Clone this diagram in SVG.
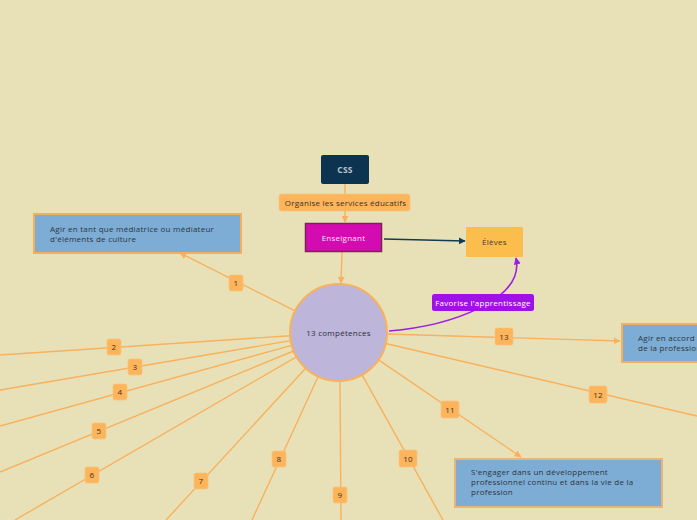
<svg xmlns="http://www.w3.org/2000/svg" width="697" height="520" viewBox="0 0 697 520">
<defs>
<marker id="ao" viewBox="0 0 10 10" refX="9" refY="5" markerWidth="7" markerHeight="7" markerUnits="userSpaceOnUse" orient="auto"><path d="M0,0 L10,5 L0,10 z" fill="#F8B15C"/></marker>
<marker id="an" viewBox="0 0 10 10" refX="9" refY="5" markerWidth="7" markerHeight="7" markerUnits="userSpaceOnUse" orient="auto"><path d="M0,0 L10,5 L0,10 z" fill="#123A52"/></marker>
<marker id="ap" viewBox="0 0 10 10" refX="9" refY="5" markerWidth="7" markerHeight="7" markerUnits="userSpaceOnUse" orient="auto"><path d="M0,0 L10,5 L0,10 z" fill="#9B1DE6"/></marker>
</defs>
<style>
text{font-family:"Open Sans","Lato","DejaVu Sans",sans-serif;letter-spacing:0.25px;}
.c{fill:none;stroke:#F8B15C;stroke-width:1.4;}
.lb rect{fill:#FDB45B;stroke:#F6C47E;stroke-width:0.8;}
.lb text{font-size:8px;fill:#3A3326;text-anchor:middle;}
.box{fill:#7DADD4;stroke:#F2B05E;stroke-width:2;}
.bt{font-size:8px;fill:#2E3440;}
</style>
<rect width="697" height="520" fill="#E8E1B8"/>
<g id="connectors">
<line class="c" x1="345" y1="184" x2="345" y2="222" marker-end="url(#ao)"/>
<line class="c" x1="342" y1="252" x2="341" y2="283" marker-end="url(#ao)"/>
<line x1="384" y1="239" x2="465" y2="241" stroke="#123A52" stroke-width="1.4" marker-end="url(#an)"/>
<path d="M389,331 C450,326 525,300 516,258" fill="none" stroke="#9B1DE6" stroke-width="1.6" marker-end="url(#ap)"/>
<line class="c" x1="295" y1="310.8" x2="180" y2="253" marker-end="url(#ao)"/>
<line class="c" x1="290.1" y1="335.7" x2="0" y2="355"/>
<line class="c" x1="290.7" y1="340.6" x2="0" y2="390"/>
<line class="c" x1="291.8" y1="345.4" x2="0" y2="426"/>
<line class="c" x1="293.7" y1="351" x2="0" y2="472"/>
<line class="c" x1="296.5" y1="356.8" x2="15" y2="520"/>
<line class="c" x1="305.7" y1="368.2" x2="166" y2="520"/>
<line class="c" x1="318.2" y1="376.5" x2="252" y2="520"/>
<line class="c" x1="340" y1="381" x2="341" y2="520"/>
<line class="c" x1="362.1" y1="374.8" x2="443" y2="520"/>
<line class="c" x1="378.6" y1="359.8" x2="521" y2="457" marker-end="url(#ao)"/>
<line class="c" x1="385.7" y1="343.5" x2="697" y2="416"/>
<line class="c" x1="387" y1="334" x2="620" y2="341" marker-end="url(#ao)"/>
</g>
<g id="label-organise" class="lb"><rect x="279" y="194" width="131" height="17" rx="2.5"/><text x="345.5" y="205.8">Organise les services éducatifs</text></g>
<g id="label-favorise"><rect x="432" y="294" width="102" height="17" rx="2.5" fill="#9E12E8"/><text x="483" y="305.8" font-size="8" fill="#FFFFFF" text-anchor="middle">Favorise l'apprentissage</text></g>
<g id="label-1" class="lb"><rect x="229" y="275" width="14" height="16" rx="2"/><text x="236" y="286">1</text></g>
<g id="label-2" class="lb"><rect x="107" y="339" width="14" height="16" rx="2"/><text x="114" y="350">2</text></g>
<g id="label-3" class="lb"><rect x="128" y="359" width="14" height="16" rx="2"/><text x="135" y="370">3</text></g>
<g id="label-4" class="lb"><rect x="113" y="384" width="14" height="16" rx="2"/><text x="120" y="395">4</text></g>
<g id="label-5" class="lb"><rect x="92" y="423" width="14" height="16" rx="2"/><text x="99" y="434">5</text></g>
<g id="label-6" class="lb"><rect x="85" y="467" width="14" height="16" rx="2"/><text x="92" y="478">6</text></g>
<g id="label-7" class="lb"><rect x="194" y="473" width="14" height="16" rx="2"/><text x="201" y="484">7</text></g>
<g id="label-8" class="lb"><rect x="272" y="451" width="14" height="16" rx="2"/><text x="279" y="462">8</text></g>
<g id="label-9" class="lb"><rect x="333" y="487" width="14" height="16" rx="2"/><text x="340" y="498">9</text></g>
<g id="label-10" class="lb"><rect x="399" y="450" width="18" height="17" rx="2"/><text x="408" y="461.5">10</text></g>
<g id="label-11" class="lb"><rect x="441" y="401" width="18" height="17" rx="2"/><text x="450" y="412.5">11</text></g>
<g id="label-12" class="lb"><rect x="589" y="386" width="18" height="17" rx="2"/><text x="598" y="397.5">12</text></g>
<g id="label-13" class="lb"><rect x="495" y="328" width="18" height="17" rx="2"/><text x="504" y="339.5">13</text></g>
<g id="node-css"><rect x="321" y="155" width="48" height="29" rx="2" fill="#0C3350"/><text x="345" y="173" font-size="8.5" font-weight="bold" fill="#B8C4CE" text-anchor="middle">CSS</text></g>
<g id="node-enseignant"><rect x="305.5" y="223.5" width="76" height="28" fill="#D50BB2" stroke="#7A2550" stroke-width="1.5"/><text x="343.5" y="241" font-size="8" fill="#F7E3F2" text-anchor="middle">Enseignant</text></g>
<g id="node-eleves"><rect x="466" y="227" width="57" height="30" rx="1" fill="#FBBE4D"/><text x="494.5" y="245" font-size="8" fill="#4A4028" text-anchor="middle">Élèves</text></g>
<g id="node-competences"><circle cx="338.5" cy="332.5" r="48.5" fill="#BDB6DA" stroke="#F8B15C" stroke-width="2"/><text x="338.5" y="335.5" font-size="8" fill="#2E2E3A" text-anchor="middle">13 compétences</text></g>
<g id="node-1"><rect class="box" x="34" y="214" width="207" height="39"/><text class="bt" x="50" y="232">Agir en tant que médiatrice ou médiateur</text><text class="bt" x="50" y="242">d'éléments de culture</text></g>
<g id="node-11"><rect class="box" x="455" y="459" width="207" height="48" style="stroke:#E9B477"/><text class="bt" x="471" y="475">S'engager dans un développement</text><text class="bt" x="471" y="485">professionnel continu et dans la vie de la</text><text class="bt" x="471" y="495">profession</text></g>
<g id="node-13"><rect class="box" x="622" y="324" width="90" height="38"/><text class="bt" x="638" y="341">Agir en accord avec les principes éthiques</text><text class="bt" x="638" y="351">de la profession</text></g>
</svg>
